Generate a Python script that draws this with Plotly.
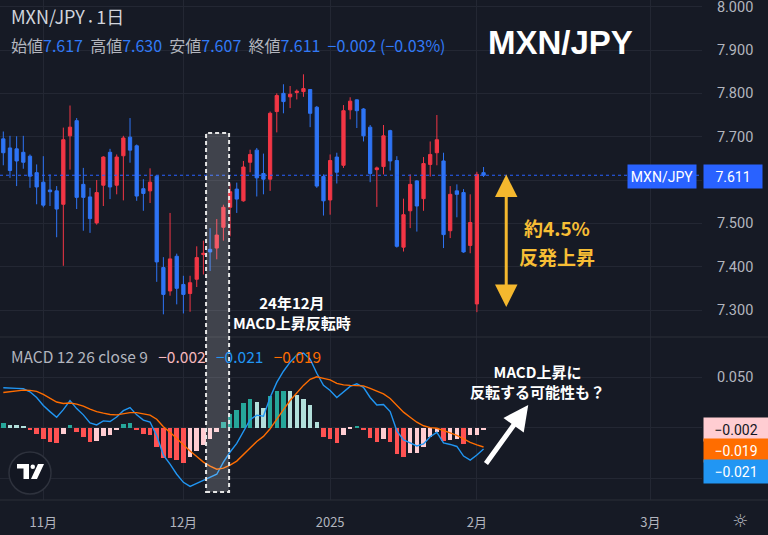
import plotly.graph_objects as go

# MXN/JPY daily bars, 2024-10-24 .. 2025-02-04 (x = bar number)
opens = [7.695, 7.674, 7.672, 7.664, 7.655, 7.617, 7.595, 7.577, 7.575, 7.544,
         7.702, 7.737, 7.590, 7.561, 7.501, 7.588, 7.664, 7.588, 7.656, 7.699,
         7.679, 7.580, 7.575, 7.609, 7.398, 7.344, 7.424, 7.359, 7.338, 7.371,
         7.428, 7.440, 7.443, 7.491, 7.537, 7.579, 7.552, 7.641, 7.669, 7.615,
         7.602, 7.758, 7.800, 7.792, 7.802, 7.804, 7.809, 7.768, 7.608, 7.554,
         7.653, 7.634, 7.762, 7.785, 7.764, 7.722, 7.624, 7.631, 7.714, 7.645,
         7.445, 7.529, 7.598, 7.557, 7.636, 7.663, 7.644, 7.483, 7.575, 7.571,
         7.449, 7.314, 7.617]
highs = [7.712, 7.702, 7.701, 7.702, 7.659, 7.636, 7.655, 7.613, 7.586, 7.721,
         7.772, 7.743, 7.628, 7.582, 7.600, 7.655, 7.672, 7.659, 7.702, 7.743,
         7.682, 7.602, 7.627, 7.611, 7.422, 7.524, 7.430, 7.379, 7.379, 7.447,
         7.460, 7.489, 7.510, 7.543, 7.592, 7.594, 7.644, 7.670, 7.674, 7.661,
         7.758, 7.800, 7.821, 7.817, 7.809, 7.844, 7.810, 7.771, 7.613, 7.659,
         7.663, 7.773, 7.791, 7.786, 7.766, 7.727, 7.631, 7.727, 7.716, 7.655,
         7.557, 7.613, 7.600, 7.653, 7.689, 7.750, 7.663, 7.586, 7.590, 7.579,
         7.567, 7.619, 7.630]
lows = [7.634, 7.605, 7.586, 7.626, 7.582, 7.544, 7.537, 7.540, 7.468, 7.402,
        7.624, 7.533, 7.483, 7.478, 7.497, 7.540, 7.556, 7.567, 7.553, 7.640,
        7.552, 7.529, 7.547, 7.365, 7.290, 7.333, 7.313, 7.292, 7.296, 7.353,
        7.382, 7.390, 7.417, 7.460, 7.470, 7.524, 7.550, 7.618, 7.562, 7.567,
        7.575, 7.710, 7.754, 7.766, 7.786, 7.792, 7.722, 7.582, 7.518, 7.520,
        7.592, 7.628, 7.740, 7.720, 7.689, 7.595, 7.538, 7.613, 7.622, 7.444,
        7.435, 7.489, 7.481, 7.529, 7.608, 7.634, 7.443, 7.466, 7.514, 7.432,
        7.431, 7.295, 7.607]
closes = [7.663, 7.622, 7.644, 7.641, 7.609, 7.584, 7.542, 7.573, 7.533, 7.693,
          7.722, 7.560, 7.560, 7.511, 7.571, 7.653, 7.584, 7.653, 7.697, 7.669,
          7.563, 7.569, 7.595, 7.411, 7.336, 7.418, 7.350, 7.336, 7.363, 7.421,
          7.431, 7.434, 7.473, 7.537, 7.573, 7.556, 7.630, 7.659, 7.605, 7.602,
          7.754, 7.795, 7.781, 7.798, 7.805, 7.811, 7.754, 7.586, 7.552, 7.645,
          7.618, 7.760, 7.782, 7.760, 7.702, 7.615, 7.628, 7.702, 7.644, 7.447,
          7.520, 7.590, 7.540, 7.638, 7.659, 7.693, 7.474, 7.567, 7.567, 7.434,
          7.502, 7.613, 7.611]

# MACD 12 26 close 9
macd_line = [0.0396, 0.039, 0.039, 0.0386, 0.0356, 0.030, 0.022, 0.016, 0.0105, 0.018,
             0.027, 0.019, 0.0128, 0.0048, 0.0028, 0.0068, 0.0062, 0.0107, 0.017, 0.020,
             0.0128, 0.0076, 0.0057, -0.008, -0.027, -0.036, -0.046, -0.054, -0.058, -0.055,
             -0.052, -0.049, -0.046, -0.034, -0.024, -0.0155, -0.003, 0.008, 0.0125, 0.0115,
             0.030, 0.045, 0.056, 0.065, 0.072, 0.074, 0.068, 0.054, 0.042, 0.037,
             0.030, 0.0355, 0.041, 0.0435, 0.040, 0.030, 0.0225, 0.023, 0.016, -0.003,
             -0.012, -0.015, -0.018, -0.016, -0.0088, -0.0045, -0.015, -0.0165, -0.0185, -0.028,
             -0.032, -0.027, -0.021]
signal_line = [0.035, 0.0357, 0.0363, 0.0373, 0.037, 0.036, 0.033, 0.0295, 0.0255, 0.024,
               0.0245, 0.0235, 0.0215, 0.0185, 0.016, 0.0145, 0.0132, 0.0128, 0.0136, 0.015,
               0.015, 0.014, 0.0125, 0.0085, 0.001, -0.0045, -0.011, -0.017, -0.023, -0.0285,
               -0.034, -0.038, -0.041, -0.040, -0.037, -0.033, -0.027, -0.020, -0.0135, -0.0085,
               -0.001, 0.009, 0.018, 0.027, 0.035, 0.042, 0.048, 0.0505, 0.049, 0.0475,
               0.044, 0.0425, 0.042, 0.042, 0.0415, 0.039, 0.036, 0.0335, 0.029, 0.022,
               0.0155, 0.0105, 0.0055, 0.002, 0.0002, -0.0005, -0.0025, -0.005, -0.0075, -0.011,
               -0.0145, -0.017, -0.019]
macd_hist = [0.0043, 0.0026, 0.0024, 0.0016, -0.0023, -0.0066, -0.011, -0.0139, -0.0155, -0.0063,
             0.0028, -0.0046, -0.0089, -0.0139, -0.0135, -0.0079, -0.0073, -0.0023, 0.0033, 0.005,
             -0.0023, -0.0066, -0.0068, -0.0188, -0.0297, -0.0304, -0.032, -0.0347, -0.0287, -0.0231,
             -0.0172, -0.0112, -0.0046, 0.0059, 0.0132, 0.0175, 0.0241, 0.0284, 0.0257, 0.020,
             0.0314, 0.0363, 0.0366, 0.036, 0.0323, 0.029, 0.023, 0.006, -0.009, -0.0106,
             -0.0149, -0.0073, -0.0005, 0.001, -0.002, -0.0099, -0.0139, -0.011, -0.0145, -0.0264,
             -0.0287, -0.0254, -0.025, -0.0188, -0.0089, -0.004, -0.0132, -0.0122, -0.0115, -0.016,
             -0.0075, -0.0068, -0.002]

month_pos = [6, 27, 49, 71, 97]
month_labels = ["11月", "12月", "2025", "2月", "3月"]
price_ticks = [7.3, 7.4, 7.5, 7.6, 7.7, 7.8, 7.9, 8.0]
last_price = 7.611

BG = "#161a25"
GRID = "#232733"
TXT = "#b2b5be"
RED = "#f23645"
BLUE = "#2e74f5"
JP = "Noto Sans CJK JP, Noto Sans, sans-serif"
SP = "\u00a0"

W, H = 702, 500  # plot area in px


def px(x, y):
    return x / W, 1 - y / H


xs = list(range(len(closes)))

# TradingView histogram colouring
hist_colors = []
prev = None
for h in macd_hist:
    rising = prev is None or h > prev
    if h >= 0:
        hist_colors.append("#26a69a" if rising else "#b2dfdb")
    else:
        hist_colors.append("#ffcdd2" if rising else "#ff5252")
    prev = h

fig = go.Figure()
fig.add_trace(go.Candlestick(
    x=xs, open=opens, high=highs, low=lows, close=closes,
    increasing=dict(line=dict(color=RED, width=1), fillcolor=RED),
    decreasing=dict(line=dict(color=BLUE, width=1), fillcolor=BLUE),
    whiskerwidth=0, xaxis="x", yaxis="y", hoverinfo="skip",
))
fig.add_trace(go.Bar(
    x=xs, y=macd_hist, width=0.68, marker_color=hist_colors,
    marker_line_width=0, xaxis="x", yaxis="y2", hoverinfo="skip",
))
fig.add_trace(go.Scatter(
    x=xs, y=macd_line, mode="lines", line=dict(color="#2196f3", width=1.4),
    xaxis="x", yaxis="y2", hoverinfo="skip",
))
fig.add_trace(go.Scatter(
    x=xs, y=signal_line, mode="lines", line=dict(color="#ff6d00", width=1.4),
    xaxis="x", yaxis="y2", hoverinfo="skip",
))

split = 1 - 337 / H
price_text = ["" if abs(v - 7.6) < 1e-9 else "%.3f" % v for v in price_ticks]

fig.update_layout(
    width=768, height=535,
    margin=dict(l=0, r=768 - W, t=0, b=535 - H),
    paper_bgcolor=BG, plot_bgcolor=BG,
    showlegend=False, bargap=0,
    font=dict(family=JP, color=TXT),
    xaxis=dict(
        domain=[0, 1], anchor="y2", range=[-0.495, 104.75],
        tickvals=month_pos, ticktext=month_labels,
        showgrid=True, gridcolor=GRID, zeroline=False, showline=False,
        ticks="outside", ticklen=10, tickcolor=BG,
        tickfont=dict(size=13, color=TXT, family=JP),
        rangeslider=dict(visible=False), fixedrange=True,
        ticklabeloverflow="allow",
    ),
    yaxis=dict(
        domain=[split, 1], anchor="x", side="right",
        range=[7.2377, 8.0155], tickvals=price_ticks, ticktext=price_text,
        showgrid=True, gridcolor=GRID, zeroline=False, showline=False,
        ticks="outside", ticklen=11, tickcolor=BG,
        tickfont=dict(size=14.5, color=TXT, family="Roboto"),
        ticklabeloverflow="allow",
    ),
    yaxis2=dict(
        domain=[0, split], anchor="x", side="right",
        range=[-0.0715, 0.0899], tickvals=[-0.05, 0, 0.05],
        ticktext=["", "", "0.050"],
        showgrid=True, gridcolor=GRID, zeroline=False, showline=False,
        ticks="outside", ticklen=11, tickcolor=BG,
        tickfont=dict(size=14.5, color=TXT, family="Roboto"),
        ticklabeloverflow="allow",
    ),
)

shapes = []
# pane separator and time-axis border
shapes.append(dict(type="line", xref="paper", yref="paper", x0=0, x1=768 / W,
                   y0=split, y1=split, line=dict(color="#2a2e39", width=1)))
shapes.append(dict(type="line", xref="paper", yref="paper", x0=0, x1=768 / W,
                   y0=0, y1=0, line=dict(color="#2a2e39", width=1)))
# last price dotted line
shapes.append(dict(type="line", xref="paper", yref="y", x0=0, x1=1,
                   y0=last_price, y1=last_price,
                   line=dict(color="#2962ff", width=1.2, dash="dot")))
# highlight box (Dec 2024 MACD turn)
shapes.append(dict(type="rect", xref="x", yref="paper", x0=30.4, x1=33.85,
                   y0=px(0, 492)[1], y1=px(0, 133)[1],
                   fillcolor="rgba(255,255,255,0.18)",
                   line=dict(color="#e6e6e6", width=2, dash="4px,3px"), layer="above"))
# TradingView logo
cx, cy, r = 30, 473, 21
shapes.append(dict(type="circle", xref="paper", yref="paper",
                   x0=px(cx - r, 0)[0], x1=px(cx + r, 0)[0],
                   y0=px(0, cy + r)[1], y1=px(0, cy - r)[1],
                   fillcolor="#131722", line=dict(color="#2e323d", width=1.5), layer="above"))


def poly(points):
    p = [px(a, b) for a, b in points]
    return "M " + " L ".join("%.5f,%.5f" % q for q in p) + " Z"


shapes.append(dict(type="path", xref="paper", yref="paper", layer="above",
                   path=poly([(17, 464), (29, 464), (29, 479), (23.5, 479), (23.5, 468.5), (17, 468.5)]),
                   fillcolor="white", line=dict(width=0)))
shapes.append(dict(type="circle", xref="paper", yref="paper", layer="above",
                   x0=px(30.5, 0)[0], x1=px(35, 0)[0], y0=px(0, 469)[1], y1=px(0, 464.5)[1],
                   fillcolor="white", line=dict(width=0)))
shapes.append(dict(type="path", xref="paper", yref="paper", layer="above",
                   path=poly([(38, 464), (44, 464), (37, 479), (31, 479)]),
                   fillcolor="white", line=dict(width=0)))
fig.update_layout(shapes=shapes)

ann = []


def label(x, y, text, size, color, xanchor="left", family=JP, **kw):
    ax_, ay_ = px(x, y)
    ann.append(dict(xref="paper", yref="paper", x=ax_, y=ay_, text=text,
                    showarrow=False, xanchor=xanchor, yanchor="middle",
                    font=dict(size=size, color=color, family=family), **kw))


V = "#3179f5"
label(9, 16, "MXN/JPY <span style='font-size:10px'>•</span> 1日", 18, "#d1d4dc")
label(9, 45,
      ("始値<span style='color:%s'>7.617</span>" + SP * 2 + "高値<span style='color:%s'>7.630</span>" + SP * 2 +
       "安値<span style='color:%s'>7.607</span>" + SP * 2 + "終値<span style='color:%s'>7.611</span>" + SP * 2 +
       "<span style='color:%s'>−0.002 (−0.03%%)</span>") % (V, V, V, V, V), 16, TXT)
label(560, 43, "<b>MXN/JPY</b>", 33, "white", xanchor="center", family="Liberation Sans")
label(557, 228, "<b>約4.5%</b>", 19, "#f7be35", xanchor="center")
label(557, 256, "<b>反発上昇</b>", 19, "#f7be35", xanchor="center")
label(292, 312, "<b>24年12月<br>MACD上昇反転時</b>", 15, "white", xanchor="center")
label(537, 381, "<b>MACD上昇に<br>反転する可能性も？</b>", 15, "white", xanchor="center")
label(9, 356,
      "MACD 12 26 close 9" + SP * 3 + "<span style='color:#f7b9be'>−0.002</span>" + SP * 3 +
      "<span style='color:#2196f3'>−0.021</span>" + SP * 3 + "<span style='color:#ff6d00'>−0.019</span>",
      15.5, TXT)
label(740, 520, "☼", 18, TXT, xanchor="center", family="DejaVu Sans")


# right-axis value boxes
def box(y, text, bg, fg, x=703, width=56, height=21):
    ax_, ay_ = px(x, y)
    ann.append(dict(xref="paper", yref="paper", x=ax_, y=ay_, text=text,
                    showarrow=False, xanchor="left", yanchor="middle",
                    bgcolor=bg, width=width, height=height, align="center",
                    font=dict(size=14, color=fg, family="Roboto")))


box(176, "MXN/JPY", "#2962ff", "white", x=627, width=66)
box(176, "7.611", "#2962ff", "white", width=56)
box(429.5, "−0.002", "#ffcdd2", "#131722", width=62)
box(450.5, "−0.019", "#ff6d00", "white", width=62)
box(471.5, "−0.021", "#2196f3", "white", width=62)

# yellow double arrow
ann.append(dict(xref="x", yref="y", axref="x", ayref="y",
                x=75.4, y=7.307, ax=75.4, ay=7.616, text="", showarrow=True,
                arrowside="end+start", arrowhead=2, startarrowhead=2,
                arrowsize=1.5, startarrowsize=1.5, arrowwidth=3, arrowcolor="#f5b82e"))
# white arrow in MACD pane
ann.append(dict(xref="x", yref="y2", axref="x", ayref="y2",
                x=78.7, y=0.0226, ax=72.2, ay=-0.0368, text="", showarrow=True,
                arrowhead=2, arrowsize=1, arrowwidth=5, arrowcolor="white"))

fig.update_layout(annotations=ann)
fig.write_html("out.html", config={"displayModeBar": False},
               post_script="document.body.style.margin='0';")
